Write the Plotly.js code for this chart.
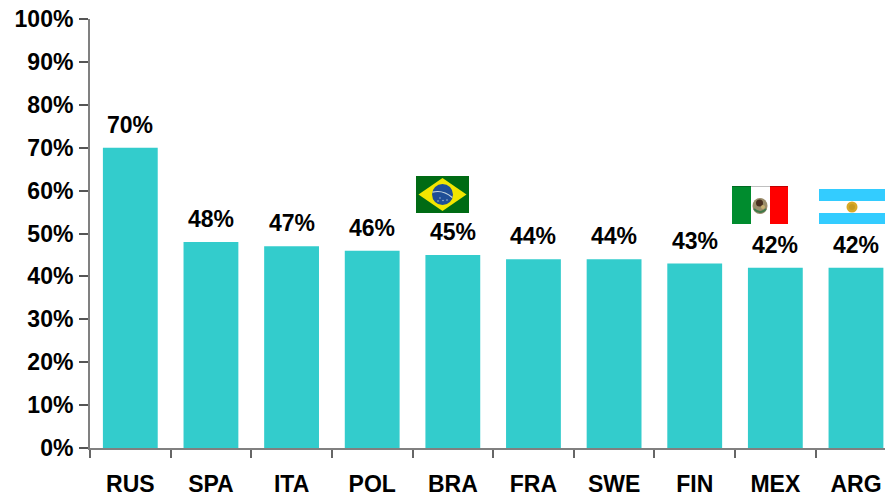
<!DOCTYPE html>
<html>
<head>
<meta charset="utf-8">
<script src="https://cdn.plot.ly/plotly-3.0.1.min.js"></script>
<style>html,body{margin:0;padding:0;background:#fff}#c{width:885px;height:497px}</style>
</head>
<body>
<div id="c"></div>
<script>
const categories = ['RUS','SPA','ITA','POL','BRA','FRA','SWE','FIN','MEX','ARG'];
const shares = [0.70,0.48,0.47,0.46,0.45,0.44,0.44,0.43,0.42,0.42];
const yTicks = [0,0.1,0.2,0.3,0.4,0.5,0.6,0.7,0.8,0.9,1];

const FONT = 'Liberation Sans, Arial, sans-serif';
const TEXT_SIZE = 23;
const uri = s => 'data:image/svg+xml;base64,' + btoa(s);

const brazil = uri(`<svg xmlns="http://www.w3.org/2000/svg" viewBox="0 0 53 37" preserveAspectRatio="none" width="53" height="37">
<rect width="53" height="37" fill="#006B14"/>
<polygon points="26.5,2 50.5,18.5 26.5,35 2.5,18.5" fill="#F2E600"/>
<circle cx="26.5" cy="18.5" r="10.5" fill="#1F4E96"/>
<path d="M16.5 16.2 Q27 13.5 36.3 21.5" stroke="#C8D8E0" stroke-width="1.2" fill="none"/>
<circle cx="24" cy="22" r=".7" fill="#bcd"/><circle cx="27" cy="24.5" r=".7" fill="#bcd"/><circle cx="22" cy="25" r=".7" fill="#bcd"/><circle cx="31" cy="24" r=".7" fill="#bcd"/>
</svg>`);

const mexico = uri(`<svg xmlns="http://www.w3.org/2000/svg" viewBox="0 0 56 38" preserveAspectRatio="none" width="56" height="38">
<rect width="19" height="38" fill="#008C2E"/>
<rect x="19" width="19" height="38" fill="#FFFFFF"/>
<rect x="38" width="18" height="38" fill="#FF0000"/>
<ellipse cx="28" cy="20" rx="7.5" ry="8" fill="#9A8C6A"/>
<circle cx="27.5" cy="17" r="3.5" fill="#4A3020"/>
<path d="M22 23 Q28 29 34 23" stroke="#3F7A4A" stroke-width="1.8" fill="none"/>
<circle cx="31" cy="21" r="2" fill="#C8B070"/>
<rect width="56" height="1" fill="#000" opacity=".25"/>
</svg>`);

const argentina = uri(`<svg xmlns="http://www.w3.org/2000/svg" viewBox="0 0 66 35" preserveAspectRatio="none" width="66" height="35">
<rect width="66" height="35" fill="#FFFFFF"/>
<rect width="66" height="12" fill="#33CCFF"/>
<rect y="24" width="66" height="11" fill="#33CCFF"/>
<circle cx="33" cy="18" r="5.5" fill="#D9A928"/>
<circle cx="33" cy="18" r="3" fill="#C79A20"/>
</svg>`);

const trace = {
  type: 'bar',
  x: categories,
  y: shares,
  width: 0.68,
  marker: {color: '#33CCCC', line: {width: 0}},
  hoverinfo: 'skip'
};

const labels = categories.map((c, i) => ({
  x: c, y: shares[i], xref: 'x', yref: 'y',
  text: Math.round(shares[i] * 100) + '%',
  showarrow: false, yanchor: 'middle', xanchor: 'center', yshift: 23,
  font: {family: FONT, size: TEXT_SIZE, color: '#000', weight: 700}
}));

const layout = {
  width: 885, height: 497,
  margin: {l: 90, r: 0, t: 19, b: 49, pad: 0},
  paper_bgcolor: '#fff', plot_bgcolor: '#fff',
  showlegend: false,
  xaxis: {
    type: 'category', categoryorder: 'array', categoryarray: categories,
    range: [-0.5, 9.36],
    tickson: 'boundaries',
    ticks: 'outside', ticklen: 8, tickwidth: 2, tickcolor: '#666',
    showline: true, linecolor: '#808080', linewidth: 2,
    showgrid: false, zeroline: false,
    ticklabelstandoff: 14,
    tickfont: {family: FONT, size: TEXT_SIZE, color: '#000', weight: 700}
  },
  yaxis: {
    range: [0, 1],
    tickvals: yTicks,
    tickformat: '.0%',
    ticks: 'outside', ticklen: 9, tickwidth: 2, tickcolor: '#555',
    showline: true, linecolor: '#808080', linewidth: 2,
    showgrid: false, zeroline: false,
    ticklabelstandoff: 1,
    tickfont: {family: FONT, size: TEXT_SIZE, color: '#000', weight: 700}
  },
  annotations: labels,
  images: [
    {source: brazil, xref: 'paper', yref: 'paper', xanchor: 'left', yanchor: 'top',
     x: (416-90)/795, y: (448-176)/429, sizex: 53/795, sizey: 37/429, sizing: 'stretch', layer: 'above'},
    {source: mexico, xref: 'paper', yref: 'paper', xanchor: 'left', yanchor: 'top',
     x: (732-90)/795, y: (448-186)/429, sizex: 56/795, sizey: 38/429, sizing: 'stretch', layer: 'above'},
    {source: argentina, xref: 'paper', yref: 'paper', xanchor: 'left', yanchor: 'top',
     x: (819-90)/795, y: (448-189)/429, sizex: 66/795, sizey: 35/429, sizing: 'stretch', layer: 'above'}
  ]
};

Plotly.newPlot('c', [trace], layout, {displayModeBar: false, staticPlot: true});
</script>
</body>
</html>
